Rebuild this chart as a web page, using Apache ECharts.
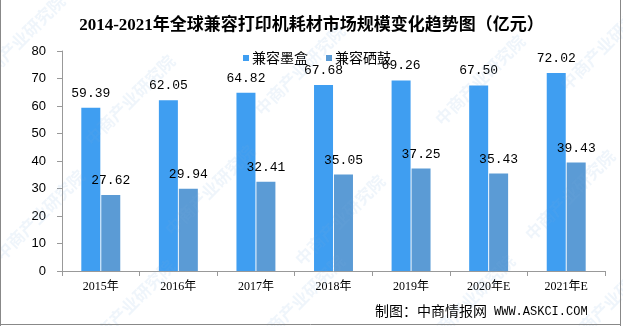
<!DOCTYPE html>
<html>
<head>
<meta charset="utf-8">
<script src="https://cdn.jsdelivr.net/npm/echarts@6/dist/echarts.min.js"></script>
<style>
  html, body { margin: 0; padding: 0; background: #fff; }
  #chart { width: 623px; height: 326px; }
</style>
</head>
<body>
<div id="chart"></div>
<script>
// Market size of compatible printer consumables, 100 million yuan
const years = ['2015年', '2016年', '2017年', '2018年', '2019年', '2020年E', '2021年E'];
const inkCartridge = [59.39, 62.05, 64.82, 67.68, 69.26, 67.50, 72.02];
const tonerDrum = [27.62, 29.94, 32.41, 35.05, 37.25, 35.43, 39.43];
const seriesNames = ['兼容墨盒', '兼容硒鼓'];
const yTicks = { min: 0, max: 80, interval: 10 };

const chart = echarts.init(document.getElementById('chart'), null, { renderer: 'canvas' });

// faint diagonal brand marks spread across the canvas
const markSpots = [
  [20, 40], [130, 100], [300, 70], [480, 80], [605, 45],
  [40, 215], [210, 190], [340, 220], [570, 195],
  [130, 305], [300, 300], [470, 300], [612, 300]
];
const marks = markSpots.map(([x, y]) => ({
  type: 'text',
  x: x, y: y,
  rotation: Math.PI / 4,
  silent: true,
  z: 100,
  style: {
    text: '中商产业研究院',
    font: 'bold 17px "Noto Sans CJK SC"',
    fill: 'rgba(120,170,220,0.12)',
    textAlign: 'center',
    textVerticalAlign: 'middle'
  }
}));

const mono = '"Liberation Mono", "DejaVu Sans Mono", monospace';
const serif = '"Liberation Serif", "Noto Sans CJK SC", serif';

const valueLabel = {
  show: true,
  position: 'top',
  distance: 8,
  formatter: p => p.value.toFixed(2),
  fontFamily: mono,
  fontSize: 13,
  color: '#000'
};

chart.setOption({
  animation: false,
  backgroundColor: '#fff',
  title: {
    text: '2014-2021年全球兼容打印机耗材市场规模变化趋势图（亿元）',
    left: 'center',
    top: 12,
    textStyle: {
      fontFamily: '"Liberation Serif", "Noto Sans CJK SC", serif',
      fontSize: 17,
      fontWeight: 'bold',
      color: '#000'
    }
  },
  legend: {
    data: seriesNames,
    left: 238,
    top: 46,
    icon: 'rect',
    itemWidth: 6,
    itemHeight: 6,
    itemGap: 18,
    textStyle: {
      fontFamily: '"Noto Sans CJK SC", sans-serif',
      fontSize: 14,
      color: '#000',
      padding: [0, 0, 0, -2]
    }
  },
  grid: { left: 62, right: 18, top: 51, bottom: 55 },
  xAxis: {
    type: 'category',
    data: years,
    axisLine: { lineStyle: { color: '#999', width: 1 } },
    axisTick: { show: true, length: 5, lineStyle: { color: '#999' } },
    axisLabel: {
      margin: 10,
      fontFamily: serif,
      fontSize: 12,
      color: '#000'
    }
  },
  yAxis: {
    type: 'value',
    min: yTicks.min,
    max: yTicks.max,
    interval: yTicks.interval,
    splitLine: { show: false },
    axisLine: { show: true, lineStyle: { color: '#999', width: 1 } },
    axisTick: { show: true, length: 5, lineStyle: { color: '#999' } },
    axisLabel: {
      margin: 16,
      fontFamily: '"Liberation Sans", sans-serif',
      fontSize: 13,
      color: '#000'
    }
  },
  series: [
    {
      name: seriesNames[0],
      type: 'bar',
      data: inkCartridge,
      barWidth: 19,
      barGap: '5%',
      itemStyle: { color: '#3f9ef1' },
      label: valueLabel
    },
    {
      name: seriesNames[1],
      type: 'bar',
      data: tonerDrum,
      barWidth: 19,
      itemStyle: { color: '#5b9bd5' },
      label: valueLabel
    }
  ],
  graphic: [
    ...marks,
    {
      type: 'text',
      left: 375,
      top: 304,
      z: 110,
      style: {
        text: '制图：中商情报网',
        font: '14px "Noto Sans CJK SC", sans-serif',
        fill: '#000'
      }
    },
    {
      type: 'text',
      left: 494,
      top: 306,
      z: 110,
      style: {
        text: 'WWW.ASKCI.COM',
        font: '12px ' + mono,
        fill: '#000'
      }
    },
    // frame edges: left, right, bottom
    { type: 'line', z: 120, shape: { x1: 0.5, y1: 0, x2: 0.5, y2: 326 }, style: { stroke: '#888', lineWidth: 1 } },
    { type: 'line', z: 120, shape: { x1: 620.5, y1: 0, x2: 620.5, y2: 326 }, style: { stroke: '#888', lineWidth: 1 } },
    { type: 'line', z: 120, shape: { x1: 0, y1: 324.5, x2: 621, y2: 324.5 }, style: { stroke: '#888', lineWidth: 1 } }
  ]
});
</script>
</body>
</html>
